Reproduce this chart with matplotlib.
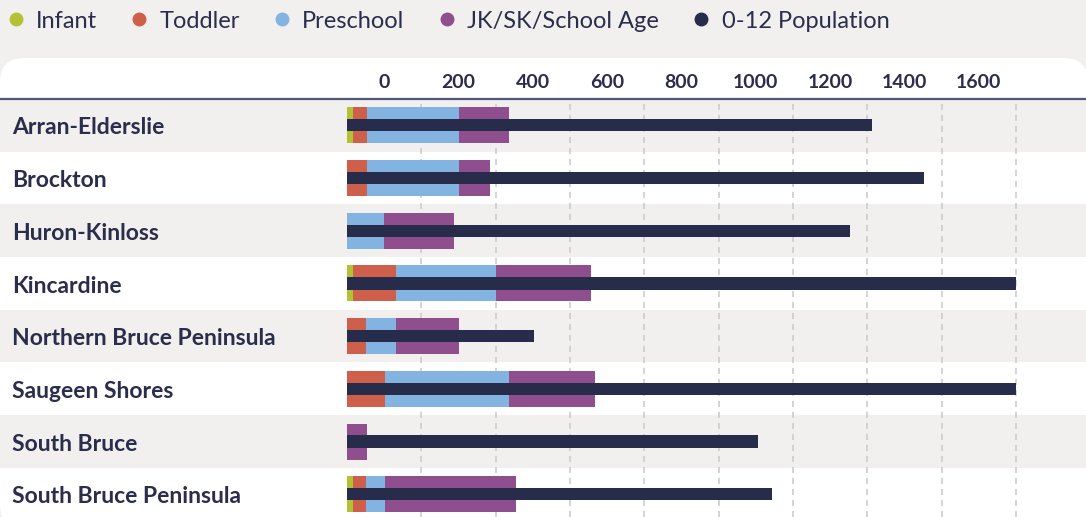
import matplotlib.pyplot as plt
from matplotlib.lines import Line2D
from matplotlib.patches import FancyBboxPatch
import numpy as np

plt.rcParams['font.family'] = ['Lato', 'DejaVu Sans']

# data (children by age group, per municipality)
regions = ['Arran-Elderslie', 'Brockton', 'Huron-Kinloss', 'Kincardine',
           'Northern Bruce Peninsula', 'Saugeen Shores', 'South Bruce',
           'South Bruce Peninsula']
infant = [15, 0, 0, 16, 0, 0, 0, 16]
toddler = [38, 54, 0, 116, 51, 102, 0, 35]
preschool = [248, 248, 100, 269, 81, 334, 0, 51]
school_age = [135, 83, 188, 256, 170, 231, 54, 352]
population = [1412, 1552, 1353, 1800, 503, 1800, 1106, 1143]

tick_values = [0, 200, 400, 600, 800, 1000, 1200, 1400, 1600]
grid_values = [200, 400, 600, 800, 1000, 1200, 1400, 1600, 1800]

series = [('Infant', infant, '#b3c234'),
          ('Toddler', toddler, '#cd5f4b'),
          ('Preschool', preschool, '#82b3e1'),
          ('JK/SK/School Age', school_age, '#8f4f8f')]
pop_color = '#282c4b'
text_color = '#2a2d4b'
bg = '#f1f0ee'

W, H = 1086, 517
fig = plt.figure(figsize=(W / 100, H / 100), dpi=100, facecolor=bg)

# white rounded panel
panel = FancyBboxPatch((0, -12), W + 2, H - 58 + 12,
                       boxstyle='round,pad=0,rounding_size=24',
                       transform=None, facecolor='white', edgecolor='none',
                       zorder=0)
fig.add_artist(panel)

top = 99
row_h = 52.7
ax = fig.add_axes([0, 0, 1, (H - top) / H])
ax.set_facecolor('none')
px_per_unit = 74.33 / 200
x0 = 347
ax.set_xlim(-x0 / px_per_unit, (W - x0) / px_per_unit)
ax.set_ylim(-0.5 + (H - top) / row_h, -0.5)

y = np.arange(len(regions))

# row stripes
for i in y:
    if i % 2 == 0:
        s = ax.axhspan(i - 0.5, i + 0.5, color=bg, lw=0, zorder=0)
        s.set_clip_path(panel)

# gridlines
for g in grid_values:
    ax.axvline(g, color='#c9c9c9', lw=1.1, dashes=(4, 3.2), zorder=1)

# stacked bars
left = np.zeros(len(regions))
for name, vals, c in series:
    ax.barh(y, vals, left=left, height=0.685, color=c, lw=0, zorder=2)
    left += np.array(vals)

ax.barh(y, population, height=0.23, color=pop_color, lw=0, zorder=3)

# row labels
for i, r in enumerate(regions):
    ax.text(-335 / px_per_unit, i + 0.05, r, ha='left', va='center',
            fontsize=16.5, fontweight='bold', color=text_color)

# top axis: labels sit halfway between gridlines
ax.xaxis.tick_top()
ax.set_xticks([v + 100 for v in tick_values])
ax.set_xticklabels([str(v) for v in tick_values], fontsize=14,
                   fontweight='bold', color=text_color)
ax.tick_params(axis='x', length=0, pad=6)
ax.set_yticks([])
for side in ['left', 'right', 'bottom']:
    ax.spines[side].set_visible(False)
ax.spines['top'].set_color('#50557a')
ax.spines['top'].set_linewidth(1.6)

# legend
handles = [Line2D([], [], marker='o', ls='', ms=9, color=c) for _, _, c in series]
handles.append(Line2D([], [], marker='o', ls='', ms=9, color=pop_color))
labels = [s[0] for s in series] + ['0-12 Population']
leg = fig.legend(handles, labels, loc='center left', bbox_to_anchor=(-0.002, 1 - 21 / H),
                 ncol=5, frameon=False, fontsize=17, handlelength=0.7,
                 handletextpad=0.5, columnspacing=1.45, borderaxespad=0)
for t in leg.get_texts():
    t.set_color(text_color)

fig.savefig('out.png', dpi=100, facecolor=bg)
